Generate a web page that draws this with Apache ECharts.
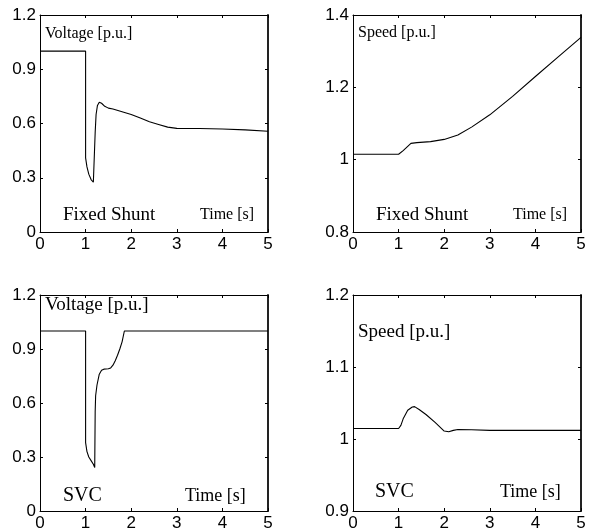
<!DOCTYPE html>
<html>
<head>
<meta charset="utf-8">
<script src="https://cdn.jsdelivr.net/npm/echarts@6/dist/echarts.min.js"></script>
<style>html,body{margin:0;padding:0;background:#fff;}#c{width:591px;height:532px;}</style>
</head>
<body>
<div id="c"></div>
<script>
// ---- Data ----
// Panel 1: Voltage, Fixed Shunt
const tVoltFixed = [0, 1.0, 1.0, 1.03, 1.07, 1.12, 1.17, 1.2, 1.21, 1.23, 1.26, 1.3, 1.35, 1.42, 1.5, 1.6, 1.8, 2.0, 2.2, 2.4, 2.6, 2.8, 3.0, 3.5, 4.0, 4.5, 5.0];
const vVoltFixed = [1.0, 1.0, 0.41, 0.36, 0.32, 0.29, 0.275, 0.265, 0.55, 0.65, 0.70, 0.718, 0.712, 0.695, 0.685, 0.68, 0.665, 0.65, 0.63, 0.61, 0.595, 0.58, 0.573, 0.572, 0.57, 0.565, 0.557];
// Panel 2: Speed, Fixed Shunt
const tSpeedFixed = [0, 1.0, 1.1, 1.2, 1.27, 1.4, 1.7, 2.0, 2.3, 2.6, 3.0, 3.5, 4.0, 4.5, 5.0];
const vSpeedFixed = [1.015, 1.015, 1.025, 1.037, 1.045, 1.047, 1.05, 1.056, 1.068, 1.09, 1.124, 1.175, 1.23, 1.284, 1.338];
// Panel 3: Voltage, SVC
const tVoltSVC = [0, 1.0, 1.0, 1.03, 1.07, 1.12, 1.17, 1.2, 1.21, 1.22, 1.25, 1.3, 1.35, 1.4, 1.5, 1.55, 1.6, 1.65, 1.7, 1.75, 1.8, 1.85, 5.0];
const vVoltSVC = [1.0, 1.0, 0.38, 0.33, 0.30, 0.28, 0.26, 0.242, 0.55, 0.64, 0.70, 0.76, 0.782, 0.788, 0.79, 0.795, 0.81, 0.835, 0.865, 0.9, 0.94, 1.0, 1.0];
// Panel 4: Speed, SVC
const tSpeedSVC = [0, 1.0, 1.05, 1.1, 1.2, 1.3, 1.35, 1.45, 1.6, 1.8, 2.0, 2.1, 2.2, 2.3, 2.6, 3.0, 5.0];
const vSpeedSVC = [1.0146, 1.0146, 1.019, 1.028, 1.040, 1.0445, 1.045, 1.041, 1.034, 1.023, 1.011, 1.010, 1.012, 1.0132, 1.0128, 1.012, 1.012];

// Axis ranges / tick labels
const timeTicks = [0, 1, 2, 3, 4, 5];
const voltTicks = [0, 0.3, 0.6, 0.9, 1.2];
const speedFixedTicks = [0.8, 1.0, 1.2, 1.4];
const speedSVCTicks = [0.9, 1.0, 1.1, 1.2];

// Annotation texts
const panelTexts = [
  ['Voltage [p.u.]', 'Fixed Shunt', 'Time [s]'],
  ['Speed [p.u.]', 'Fixed Shunt', 'Time [s]'],
  ['Voltage [p.u.]', 'SVC', 'Time [s]'],
  ['Speed [p.u.]', 'SVC', 'Time [s]']
];

// ---- Layout ----
const grids = [
  {left: 40, top: 15, width: 228, height: 217},
  {left: 353, top: 15, width: 228, height: 217},
  {left: 40, top: 295, width: 228, height: 217},
  {left: 353, top: 295, width: 228, height: 217}
];
const yTicksList = [voltTicks, speedFixedTicks, voltTicks, speedSVCTicks];
const seriesData = [
  [tVoltFixed, vVoltFixed],
  [tSpeedFixed, vSpeedFixed],
  [tVoltSVC, vVoltSVC],
  [tSpeedSVC, vSpeedSVC]
];

const sansFont = 'Liberation Sans';
const serifFont = 'Liberation Serif';

const xAxes = [], yAxes = [], series = [];
grids.forEach((g, i) => {
  const yt = yTicksList[i];
  const ymin = yt[0], ymax = yt[yt.length - 1];
  const yint = Math.round((yt[1] - yt[0]) * 1000) / 1000;
  const common = {
    type: 'value',
    gridIndex: i,
    splitLine: {show: false},
    axisTick: {show: true, inside: true, length: 3, lineStyle: {color: '#000', width: 1}}
  };
  xAxes.push(Object.assign({}, common, {
    position: 'bottom', min: timeTicks[0], max: timeTicks[timeTicks.length - 1], interval: 1,
    axisLine: {show: true, onZero: false, lineStyle: {color: '#000', width: 1}},
    axisLabel: {show: true, color: '#000', fontFamily: sansFont, fontSize: 17, margin: 4}
  }));
  xAxes.push(Object.assign({}, common, {
    position: 'top', min: timeTicks[0], max: timeTicks[timeTicks.length - 1], interval: 1,
    axisLine: {show: true, onZero: false, lineStyle: {color: '#000', width: 1}},
    axisLabel: {show: false}
  }));
  yAxes.push(Object.assign({}, common, {
    position: 'left', min: ymin, max: ymax, interval: yint,
    axisLine: {show: true, onZero: false, lineStyle: {color: '#000', width: 1}},
    axisLabel: {show: true, color: '#000', fontFamily: sansFont, fontSize: 17, margin: 4,
      formatter: v => String(Math.round(v * 1000) / 1000)}
  }));
  yAxes.push(Object.assign({}, common, {
    position: 'right', min: ymin, max: ymax, interval: yint,
    axisLine: {show: true, onZero: false, lineStyle: {color: '#222', width: 2}},
    axisLabel: {show: false}
  }));
  const [ts, vs] = seriesData[i];
  series.push({
    type: 'line',
    xAxisIndex: 2 * i,
    yAxisIndex: 2 * i,
    data: ts.map((t, k) => [t, vs[k]]),
    showSymbol: false,
    symbol: 'none',
    lineStyle: {color: '#000', width: 1.1},
    animation: false
  });
});

// Annotation placement (pixel positions of text, relative to page)
const textPos = [
  [{x: 45, y: 34, fs: 16}, {x: 63, y: 215, fs: 19}, {x: 200, y: 215, fs: 16}],
  [{x: 358, y: 33, fs: 16}, {x: 376, y: 215, fs: 19}, {x: 513, y: 215, fs: 16}],
  [{x: 45, y: 305, fs: 19}, {x: 63, y: 496, fs: 20}, {x: 185, y: 496, fs: 18}],
  [{x: 358, y: 332, fs: 19}, {x: 375, y: 492, fs: 20}, {x: 500, y: 492, fs: 18}]
];
const graphic = [];
panelTexts.forEach((arr, i) => {
  arr.forEach((txt, j) => {
    const p = textPos[i][j];
    graphic.push({
      type: 'text', left: p.x, top: p.y - p.fs / 2,
      style: {text: txt, fill: '#000', font: p.fs + 'px "' + serifFont + '"'},
      silent: true
    });
  });
});

const chart = echarts.init(document.getElementById('c'), null, {renderer: 'canvas'});
chart.setOption({
  animation: false,
  backgroundColor: '#fff',
  grid: grids.map(g => Object.assign({containLabel: false, show: false}, g)),
  xAxis: xAxes,
  yAxis: yAxes,
  series: series,
  graphic: graphic
});
</script>
</body>
</html>
